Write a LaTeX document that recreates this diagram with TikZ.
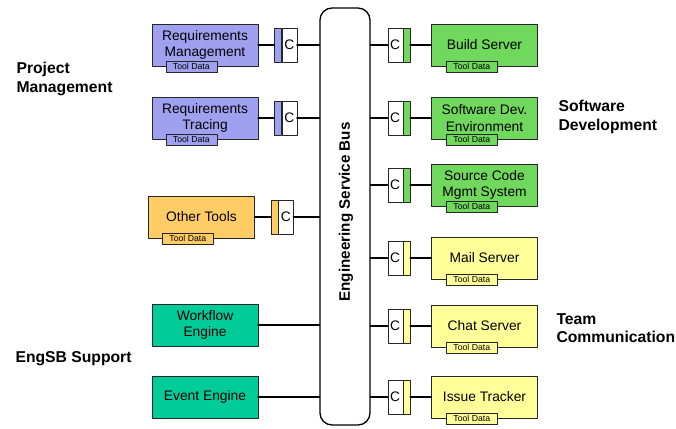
\documentclass[tikz,border=0pt]{standalone}
\usepackage{fontspec}
\setmainfont{Liberation Sans}
\usetikzlibrary{positioning}
\definecolor{reqblue}{HTML}{A0A0F0}
\definecolor{devgreen}{HTML}{70D85C}
\definecolor{teamyellow}{HTML}{FFFF99}
\definecolor{otherorange}{HTML}{FFCC66}
\definecolor{sbteal}{HTML}{00CC99}
\tikzset{
  tool/.style={draw=black!85,fill=#1,minimum width=106pt,minimum height=42pt,inner sep=0pt,align=center,font=\fontsize{13.8}{16.5}\selectfont},
  tooldata/.style={draw=black!85,fill=#1,minimum width=51pt,minimum height=11pt,inner sep=0pt,font=\fontsize{8.7}{9}\selectfont},
  conn/.style={draw=black!85,fill=white,minimum width=15pt,minimum height=34pt,inner sep=0pt,font=\fontsize{13.8}{15}\selectfont},
  strip/.style={draw=black!85,fill=#1,minimum width=7pt,minimum height=34pt,inner sep=0pt},
  group/.style={anchor=west,align=left,font=\bfseries\fontsize{15.7}{18.5}\selectfont},
  link/.style={line width=1.8pt}
}

\begin{document}
\begin{tikzpicture}[line cap=round,line join=round,x=1pt,y=-1pt]
\useasboundingbox (0,0) rectangle (676,428);
% bus
\node[draw,line width=1.3pt,rounded corners=12pt,minimum width=50pt,minimum height=417pt,inner sep=0pt] (bus) at (345,216.5) {};
\node[rotate=90,font=\bfseries\fontsize{15.2}{17}\selectfont] (buslabel) at (346,212) {Engineering Service Bus};
% left tools
\node[tool=reqblue] (reqm) at (205,45) {Requirements\\Management};
\node[tool=reqblue] (reqt) at (205,118) {Requirements\\Tracing};
\node[tool=otherorange] (other) at (201.5,217) {Other Tools};
\node[tool=sbteal] (wf) at (205,325) {Workflow\\Engine};
\node[tool=sbteal] (ev) at (205,397) {Event Engine};
% right tools
\node[tool=devgreen] (build) at (484.5,45) {Build Server};
\node[tool=devgreen] (swdev) at (484.5,118) {Software Dev.\\Environment};
\node[tool=devgreen] (scm) at (484.5,185) {Source Code\\Mgmt System};
\node[tool=teamyellow] (mail) at (484.5,258) {Mail Server};
\node[tool=teamyellow] (chat) at (484.5,326) {Chat Server};
\node[tool=teamyellow] (issue) at (484.5,397) {Issue Tracker};
% tool data tabs and connectors
\foreach \tl/\col in {reqm/reqblue,reqt/reqblue,other/otherorange}{
  \node[tooldata=\col] (\tl d) at ([xshift=39.5pt]\tl.south west) {Tool Data};
  \node[strip=\col,right=16pt of \tl] (\tl s) {};
  \node[conn,right=0pt of \tl s] (\tl c) {C};
  \draw[link] (\tl) -- (\tl s);
  \draw[link] (\tl c) -- (\tl c -| bus.west);
}
\foreach \tl/\col in {build/devgreen,swdev/devgreen,scm/devgreen,mail/teamyellow,chat/teamyellow,issue/teamyellow}{
  \node[tooldata=\col] (\tl d) at ([xshift=40.5pt]\tl.south west) {Tool Data};
  \node[strip=\col,left=21pt of \tl] (\tl s) {};
  \node[conn,left=0pt of \tl s] (\tl c) {C};
  \draw[link] (\tl) -- (\tl s);
  \draw[link] (\tl c) -- (\tl c -| bus.east);
}
\draw[link] (wf) -- (wf -| bus.west);
\draw[link] (ev) -- (ev -| bus.west);
% groups
\node[group] (pm) at (13,79) {Project\\Management};
\node[group] (sd) at (555,117) {Software\\Development};
\node[group] (tc) at (553,328) {Team\\Communication};
\node[group] (es) at (12,359) {EngSB Support};
\end{tikzpicture}
\end{document}
